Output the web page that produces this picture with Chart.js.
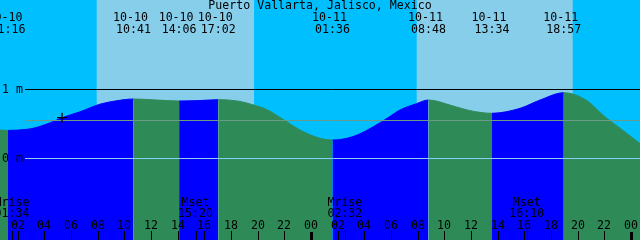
<!DOCTYPE html>
<html>
<head>
<meta charset="utf-8">
<script src="https://cdn.jsdelivr.net/npm/chart.js@4.4.1/dist/chart.umd.min.js"></script>
<style>
  html, body { margin: 0; padding: 0; background: #00bfff; }
  #wrap { width: 640px; height: 240px; }
</style>
</head>
<body>
<div id="wrap"><canvas id="tide"></canvas></div>
<script>
const title = "Puerto Vallarta, Jalisco, Mexico";

// hours counted from 10-10 00:00
const tideHours  = [0.667, 1.267, 2.54, 3.14, 4.42, 5.32, 6.67, 8.17, 9.44, 10.683,
                    12.4, 14.1, 15.6, 17.033, 18.67, 19.64, 20.69, 21.89, 23.17, 24.67,
                    25.6, 27.14, 28.64, 29.69, 30.67, 31.94, 32.8, 34.64, 35.92, 37.567,
                    39.67, 41.17, 42.95, 44.69, 45.89, 47.17, 48.667];
const tideLevels = [0.406, 0.40, 0.413, 0.43, 0.51, 0.584, 0.67, 0.78, 0.83, 0.855,
                    0.84, 0.826, 0.832, 0.845, 0.82, 0.77, 0.70, 0.56, 0.406, 0.285,
                    0.26, 0.31, 0.45, 0.575, 0.696, 0.79, 0.84, 0.754, 0.686, 0.648,
                    0.72, 0.84, 0.946, 0.83, 0.62, 0.43, 0.21];

const eventHours = [1.267, 10.683, 14.1, 17.033, 25.6, 32.8, 37.567, 42.95];
const eventDates = ["10-10", "10-10", "10-10", "10-10", "10-11", "10-11", "10-11", "10-11"];
const eventTimes = ["01:16", "10:41", "14:06", "17:02", "01:36", "08:48", "13:34", "18:57"];

const moonHours = [1.567, 15.333, 26.533, 40.167];
const moonNames = ["Mrise", "Mset", "Mrise", "Mset"];
const moonTimes = ["01:34", "15:20", "02:32", "16:10"];

const sunriseHours = [7.92, 31.92];
const sunsetHours  = [19.72, 43.62];

const tickHours  = [2, 4, 6, 8, 10, 12, 14, 16, 18, 20, 22, 24,
                    26, 28, 30, 32, 34, 36, 38, 40, 42, 44, 46, 48];
const tickLabels = ["02", "04", "06", "08", "10", "12", "14", "16", "18", "20", "22", "00",
                    "02", "04", "06", "08", "10", "12", "14", "16", "18", "20", "22", "00"];

const levelValues = [1, 0];
const levelLabels = ["1 m", "0 m"];
const levelColors = ["#000000", "#87cefa"];
const meanLevel = 0.55;

const nowHour = 5.32;
const nowLevel = 0.584;

const floodColor = "#0000ff";
const ebbColor = "#2e8b57";
const FONT = '11.6px "DejaVu Sans Mono", monospace';

const skyPlugin = {
  id: "sky",
  beforeDraw(chart) {
    const ctx = chart.ctx;
    const x = chart.scales.x;
    ctx.save();
    ctx.fillStyle = "#00bfff";
    ctx.fillRect(0, 0, chart.width, chart.height);
    ctx.fillStyle = "#87ceeb";
    for (let i = 0; i < sunriseHours.length; i++) {
      const a = x.getPixelForValue(sunriseHours[i]);
      const b = x.getPixelForValue(sunsetHours[i]);
      ctx.fillRect(a, 0, b - a, chart.height);
    }
    ctx.restore();
  }
};

// datum, mean and 1 m lines go over the tide fill but under the "now" mark
const levelLinesPlugin = {
  id: "levelLines",
  afterDatasetDraw(chart, args) {
    if (args.index !== 0) return;
    const ctx = chart.ctx;
    const y = chart.scales.y;
    ctx.save();
    ctx.lineWidth = 1;
    const lines = levelValues.map((v, i) => [v, levelColors[i]]).concat([[meanLevel, "#6a9c84"]]);
    lines.forEach(([v, c]) => {
      const py = Math.round(y.getPixelForValue(v)) + 0.5;
      ctx.strokeStyle = c;
      ctx.beginPath();
      ctx.moveTo(25, py);
      ctx.lineTo(chart.width, py);
      ctx.stroke();
    });
    ctx.restore();
  }
};

const labelsPlugin = {
  id: "labels",
  afterDraw(chart) {
    const ctx = chart.ctx;
    const x = chart.scales.x;
    const y = chart.scales.y;
    ctx.save();
    ctx.font = FONT;
    ctx.fillStyle = "#000";
    ctx.textBaseline = "alphabetic";

    ctx.textAlign = "center";
    ctx.fillText(title, 320, 9);

    eventHours.forEach((h, i) => {
      const px = x.getPixelForValue(h);
      ctx.fillText(eventDates[i], px - 3, 21);
      ctx.fillText(eventTimes[i], px, 33);
    });

    ctx.textAlign = "left";
    levelValues.forEach((v, i) => {
      ctx.fillText(levelLabels[i], 2, Math.round(y.getPixelForValue(v)) + 4);
    });

    ctx.textAlign = "center";
    moonHours.forEach((h, i) => {
      const px = x.getPixelForValue(h);
      ctx.fillText(moonNames[i], px, 206);
      ctx.fillText(moonTimes[i], px, 217);
      ctx.fillRect(Math.round(px), 231, 1, 9);
    });

    tickHours.forEach((h, i) => {
      const px = Math.round(x.getPixelForValue(h));
      ctx.fillText(tickLabels[i], px, 229);
      if (h % 24 === 0) ctx.fillRect(px - 1, 232, 3, 8);
      else ctx.fillRect(px, 231, 1, 9);
    });
    ctx.restore();
  }
};

const pick = c => (c.p1.parsed.y > c.p0.parsed.y ? floodColor : ebbColor);

new Chart(document.getElementById("tide"), {
  type: "line",
  data: {
    datasets: [
      {
        data: tideHours.map((h, i) => ({ x: h, y: tideLevels[i] })),
        order: 1,
        fill: "start",
        cubicInterpolationMode: "monotone",
        pointRadius: 0,
        borderWidth: 1,
        backgroundColor: ebbColor,
        borderColor: ebbColor,
        segment: { backgroundColor: pick, borderColor: pick },
      },
      {
        type: "scatter",
        order: 0,
        data: [{ x: nowHour, y: nowLevel }],
        pointStyle: "cross",
        pointRadius: 5,
        borderColor: "#000",
        borderWidth: 1.3,
      },
    ],
  },
  options: {
    responsive: true,
    maintainAspectRatio: false,
    animation: false,
    events: [],
    layout: { padding: 0, autoPadding: false },
    scales: {
      x: { type: "linear", min: 0.667, max: 48.667, display: false },
      y: { min: -82 / 69, max: 158 / 69, display: false },
    },
    plugins: {
      legend: { display: false },
      tooltip: { enabled: false },
    },
  },
  plugins: [skyPlugin, levelLinesPlugin, labelsPlugin],
});
</script>
</body>
</html>
